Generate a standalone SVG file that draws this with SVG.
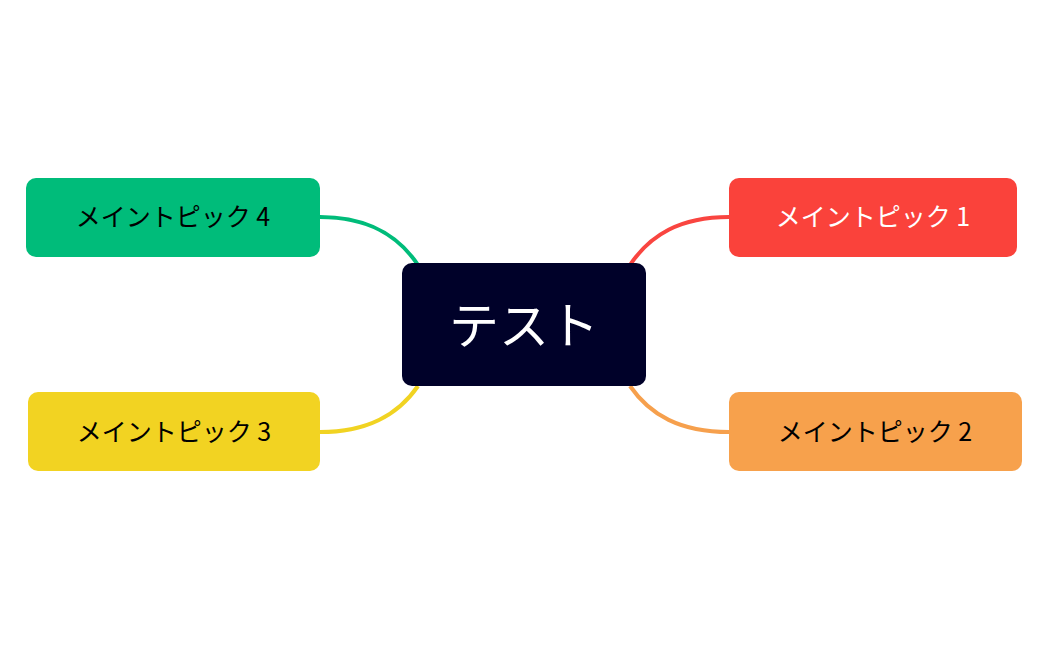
<svg xmlns="http://www.w3.org/2000/svg" width="1049" height="650" viewBox="0 0 1049 650">
<style>
.t{font-family:"Noto Sans CJK JP","Noto Sans",sans-serif;font-size:25px;text-anchor:middle;dominant-baseline:central}
.c{fill:none;stroke-width:4}
</style>
<rect width="1049" height="650" fill="#fff"/>
<g id="connectors">
<path class="c" stroke="#f94540" d="M630,265 C650,235 680,217 729,217"/>
<path class="c" stroke="#f6a04d" d="M630,386 C650,415 680,432 729,432"/>
<path class="c" stroke="#00bc7a" d="M418,265 C398,235 368,217 320,217"/>
<path class="c" stroke="#f1d322" d="M418,386 C398,415 368,432 320,432"/>
</g>
<g id="center"><rect x="402" y="263" width="244" height="123" rx="10" fill="#000129"/><text class="t" x="524" y="322" fill="#fff" style="font-size:50px">テスト</text></g>
<g id="n1"><rect x="729" y="178" width="288" height="79" rx="10" fill="#fa423b"/><text class="t" x="873" y="215" fill="#fff">メイントピック 1</text></g>
<g id="n2"><rect x="729" y="392" width="293" height="79" rx="10" fill="#f7a14c"/><text class="t" x="875" y="430" fill="#000">メイントピック 2</text></g>
<g id="n3"><rect x="28" y="392" width="292" height="79" rx="10" fill="#f2d322"/><text class="t" x="174" y="430" fill="#000">メイントピック 3</text></g>
<g id="n4"><rect x="26" y="178" width="294" height="79" rx="10" fill="#00bc7a"/><text class="t" x="173" y="215" fill="#000">メイントピック 4</text></g>
</svg>
